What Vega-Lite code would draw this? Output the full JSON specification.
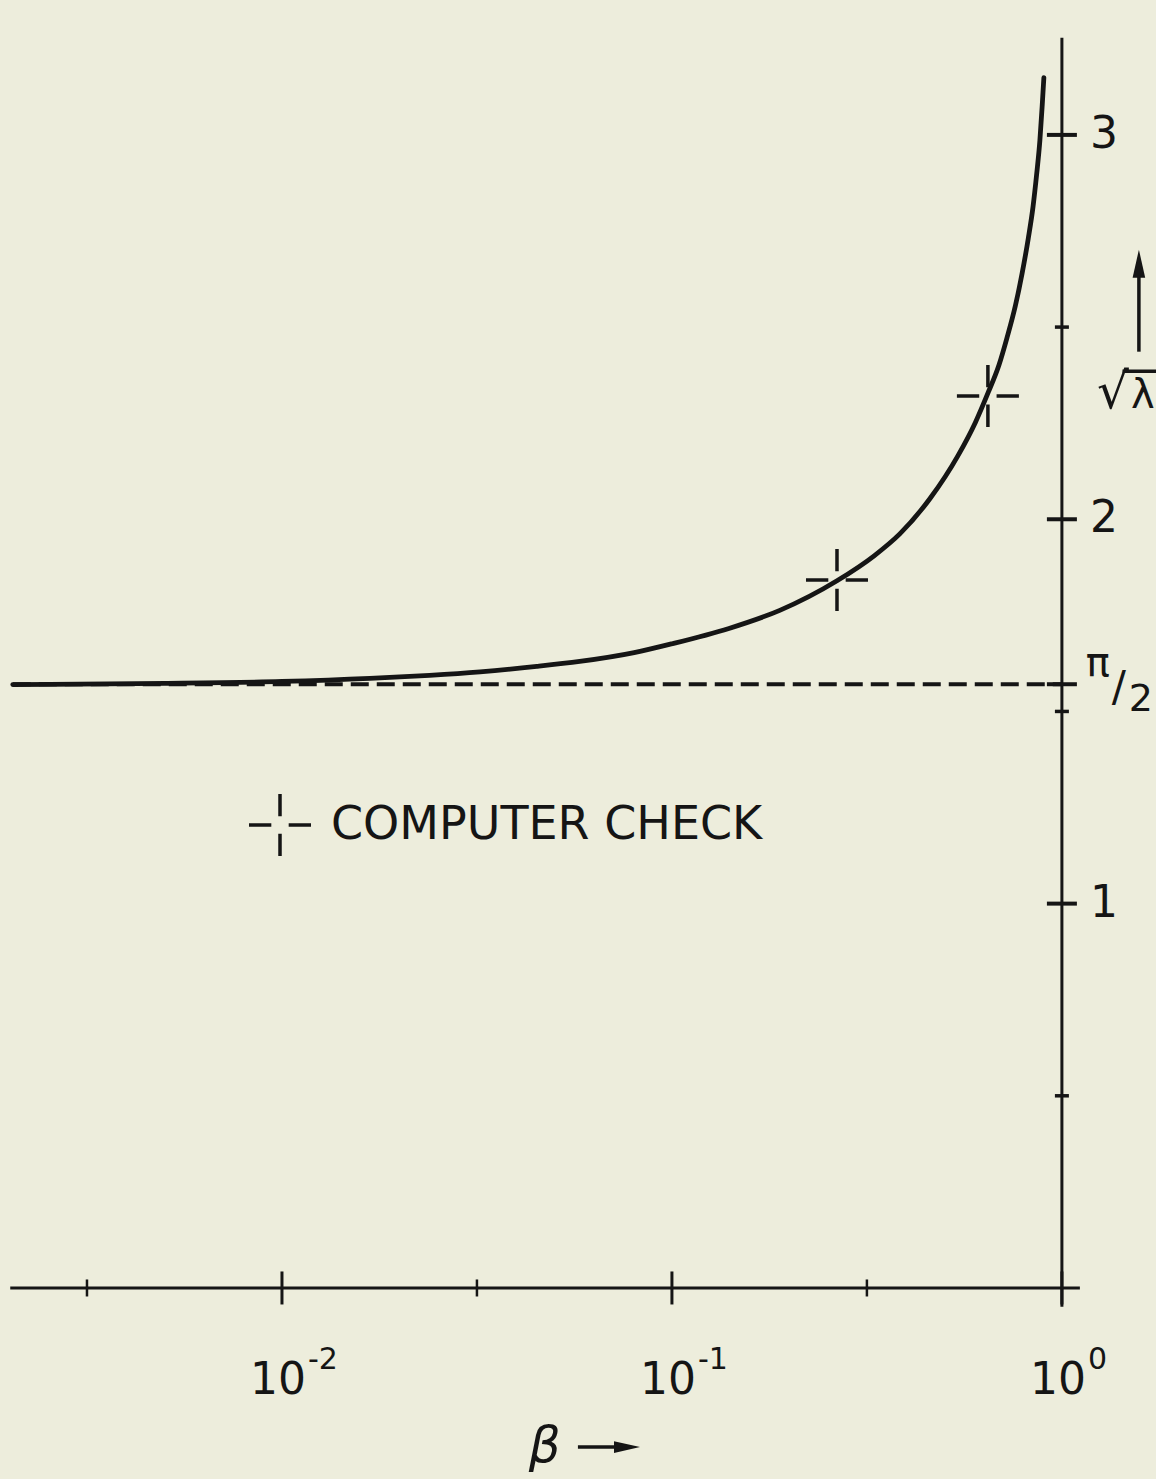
{
  "$schema": "https://vega.github.io/schema/vega-lite/v6.json",
  "width": 1156,
  "height": 1479,
  "padding": 0,
  "autosize": {"type": "none"},
  "background": "#EDEDDC",
  "config": {"view": {"stroke": null}, "font": "DejaVu Sans"},
  "datasets": {
    "axes": [
      {"beta": 0.00201, "beta2": 1.112, "v": 0, "v2": 0},
      {"beta": 1, "beta2": 1, "v": -0.049, "v2": 3.253}
    ],
    "asymptote": [{"beta": 0.00204, "beta2": 1, "v": 1.5708}],
    "yticks": [
      {"v": 0.5, "kind": "minor"},
      {"v": 1, "kind": "major"},
      {"v": 1.5, "kind": "minor"},
      {"v": 1.5708, "kind": "major"},
      {"v": 2, "kind": "major"},
      {"v": 2.5, "kind": "minor"},
      {"v": 3, "kind": "major"}
    ],
    "xticks": [
      {"beta": 0.003162, "kind": "minor"},
      {"beta": 0.01, "kind": "major", "base": "10", "exp": "-2"},
      {"beta": 0.03162, "kind": "minor"},
      {"beta": 0.1, "kind": "major", "base": "10", "exp": "-1"},
      {"beta": 0.3162, "kind": "minor"},
      {"beta": 1, "kind": "major", "base": "10", "exp": "0"}
    ],
    "ylabels": [
      {"v": 1, "label": "1"},
      {"v": 2, "label": "2"},
      {"v": 3, "label": "3"}
    ],
    "curve": [
      {"beta": 0.00204, "v": 1.570},
      {"beta": 0.005, "v": 1.573},
      {"beta": 0.01, "v": 1.578},
      {"beta": 0.0168, "v": 1.586},
      {"beta": 0.0239, "v": 1.594},
      {"beta": 0.0322, "v": 1.603},
      {"beta": 0.045, "v": 1.617},
      {"beta": 0.058, "v": 1.630},
      {"beta": 0.08, "v": 1.653},
      {"beta": 0.1, "v": 1.676},
      {"beta": 0.14, "v": 1.716},
      {"beta": 0.189, "v": 1.763},
      {"beta": 0.265, "v": 1.840},
      {"beta": 0.33, "v": 1.905},
      {"beta": 0.384, "v": 1.962},
      {"beta": 0.459, "v": 2.054},
      {"beta": 0.541, "v": 2.165},
      {"beta": 0.6, "v": 2.252},
      {"beta": 0.646, "v": 2.328},
      {"beta": 0.69, "v": 2.402},
      {"beta": 0.723, "v": 2.472},
      {"beta": 0.76, "v": 2.556},
      {"beta": 0.79, "v": 2.638},
      {"beta": 0.82, "v": 2.731},
      {"beta": 0.843, "v": 2.812},
      {"beta": 0.862, "v": 2.900},
      {"beta": 0.878, "v": 2.985},
      {"beta": 0.89, "v": 3.075},
      {"beta": 0.899, "v": 3.149}
    ],
    "checks": [
      {"beta": 0.265, "v": 1.842, "kind": "COMPUTER CHECK"},
      {"beta": 0.646, "v": 2.321, "kind": "COMPUTER CHECK"}
    ],
    "anchor": [{}]
  },
  "layer": [
    {
      "data": {"name": "axes"},
      "mark": {"type": "rule", "strokeWidth": 3, "color": "#151515"},
      "encoding": {
        "x": {"field": "beta", "type": "quantitative", "scale": {"type": "log", "domain": [0.001892, 1.743], "nice": false}, "axis": null},
        "x2": {"field": "beta2"},
        "y": {"field": "v", "type": "quantitative", "scale": {"domain": [-0.497, 3.351], "nice": false, "zero": false}, "axis": null},
        "y2": {"field": "v2"}
      }
    },
    {
      "data": {"name": "asymptote"},
      "mark": {"type": "rule", "strokeWidth": 4, "strokeDash": [18, 8], "color": "#151515"},
      "encoding": {
        "x": {"field": "beta", "type": "quantitative"},
        "x2": {"field": "beta2"},
        "y": {"field": "v", "type": "quantitative"}
      }
    },
    {
      "data": {"name": "yticks"},
      "transform": [{"filter": "datum.kind === 'major'"}],
      "mark": {"type": "tick", "orient": "horizontal", "size": 30, "thickness": 4, "color": "#151515", "opacity": 1},
      "encoding": {
        "x": {"datum": 1, "type": "quantitative"},
        "y": {"field": "v", "type": "quantitative"}
      }
    },
    {
      "data": {"name": "yticks"},
      "transform": [{"filter": "datum.kind === 'minor'"}],
      "mark": {"type": "tick", "orient": "horizontal", "size": 14, "thickness": 3.5, "color": "#151515", "opacity": 1},
      "encoding": {
        "x": {"datum": 1, "type": "quantitative"},
        "y": {"field": "v", "type": "quantitative"}
      }
    },
    {
      "data": {"name": "xticks"},
      "transform": [{"filter": "datum.kind === 'major'"}],
      "mark": {"type": "tick", "orient": "vertical", "size": 33, "thickness": 3, "color": "#151515", "opacity": 1},
      "encoding": {
        "x": {"field": "beta", "type": "quantitative"},
        "y": {"datum": 0, "type": "quantitative"}
      }
    },
    {
      "data": {"name": "xticks"},
      "transform": [{"filter": "datum.kind === 'minor'"}],
      "mark": {"type": "tick", "orient": "vertical", "size": 17, "thickness": 2.5, "color": "#151515", "opacity": 1},
      "encoding": {
        "x": {"field": "beta", "type": "quantitative"},
        "y": {"datum": 0, "type": "quantitative"}
      }
    },
    {
      "data": {"name": "curve"},
      "mark": {"type": "line", "interpolate": "monotone", "strokeWidth": 4.8, "strokeCap": "round", "color": "#151515"},
      "encoding": {
        "x": {"field": "beta", "type": "quantitative"},
        "y": {"field": "v", "type": "quantitative"}
      }
    },
    {
      "data": {"name": "checks"},
      "mark": {"type": "point", "filled": false, "size": 3844, "strokeWidth": 3.5, "opacity": 1, "color": "#151515"},
      "encoding": {
        "x": {"field": "beta", "type": "quantitative"},
        "y": {"field": "v", "type": "quantitative"},
        "shape": {
          "field": "kind",
          "type": "nominal",
          "scale": {"range": ["M0,-1V-0.28M0,0.28V1M-1,0H-0.28M0.28,0H1"]},
          "legend": {
            "orient": "none",
            "legendX": 247,
            "legendY": 792,
            "title": null,
            "labelFont": "DejaVu Sans",
            "labelFontSize": 46,
            "labelColor": "#151515",
            "labelLimit": 1000,
            "labelOffset": 18,
            "symbolSize": 3844,
            "symbolStrokeWidth": 3.5,
            "symbolStrokeColor": "#151515",
            "symbolFillColor": "transparent"
          }
        }
      }
    },
    {
      "data": {"name": "ylabels"},
      "mark": {"type": "text", "align": "left", "baseline": "middle", "dx": 28, "fontSize": 44, "color": "#151515"},
      "encoding": {
        "x": {"datum": 1, "type": "quantitative"},
        "y": {"field": "v", "type": "quantitative"},
        "text": {"field": "label"}
      }
    },
    {
      "data": {"name": "anchor"},
      "mark": {"type": "text", "align": "center", "baseline": "middle", "dx": 36, "dy": -20, "fontSize": 40, "color": "#151515"},
      "encoding": {
        "x": {"datum": 1, "type": "quantitative"},
        "y": {"datum": 1.5708, "type": "quantitative"},
        "text": {"value": "π"}
      }
    },
    {
      "data": {"name": "anchor"},
      "mark": {"type": "text", "align": "center", "baseline": "middle", "dx": 57, "dy": 4, "fontSize": 42, "color": "#151515"},
      "encoding": {
        "x": {"datum": 1, "type": "quantitative"},
        "y": {"datum": 1.5708, "type": "quantitative"},
        "text": {"value": "/"}
      }
    },
    {
      "data": {"name": "anchor"},
      "mark": {"type": "text", "align": "center", "baseline": "middle", "dx": 79, "dy": 16, "fontSize": 38, "color": "#151515"},
      "encoding": {
        "x": {"datum": 1, "type": "quantitative"},
        "y": {"datum": 1.5708, "type": "quantitative"},
        "text": {"value": "2"}
      }
    },
    {
      "data": {"name": "xticks"},
      "transform": [{"filter": "datum.kind === 'major'"}],
      "mark": {"type": "text", "align": "center", "baseline": "middle", "dx": -4, "dy": 93, "fontSize": 44, "color": "#151515"},
      "encoding": {
        "x": {"field": "beta", "type": "quantitative"},
        "y": {"datum": 0, "type": "quantitative"},
        "text": {"field": "base"}
      }
    },
    {
      "data": {"name": "xticks"},
      "transform": [{"filter": "datum.kind === 'major'"}],
      "mark": {"type": "text", "align": "left", "baseline": "middle", "dx": 26, "dy": 72, "fontSize": 30, "color": "#151515"},
      "encoding": {
        "x": {"field": "beta", "type": "quantitative"},
        "y": {"datum": 0, "type": "quantitative"},
        "text": {"field": "exp"}
      }
    },
    {
      "data": {"name": "anchor"},
      "mark": {"type": "text", "align": "left", "baseline": "alphabetic", "dx": 35, "fontSize": 50, "color": "#151515"},
      "encoding": {
        "x": {"datum": 1, "type": "quantitative"},
        "y": {"datum": 2.29, "type": "quantitative"},
        "text": {"value": "√"}
      }
    },
    {
      "data": {"name": "anchor"},
      "mark": {"type": "text", "align": "left", "baseline": "alphabetic", "dx": 69, "fontSize": 40, "color": "#151515"},
      "encoding": {
        "x": {"datum": 1, "type": "quantitative"},
        "y": {"datum": 2.29, "type": "quantitative"},
        "text": {"value": "λ"}
      }
    },
    {
      "data": {"name": "anchor"},
      "mark": {"type": "rule", "strokeWidth": 3.5, "color": "#151515"},
      "encoding": {
        "x": {"datum": 1.43, "type": "quantitative"},
        "x2": {"datum": 1.743},
        "y": {"datum": 2.385, "type": "quantitative"}
      }
    },
    {
      "data": {"name": "anchor"},
      "mark": {"type": "rule", "strokeWidth": 3.5, "xOffset": 77, "color": "#151515"},
      "encoding": {
        "x": {"datum": 1, "type": "quantitative"},
        "y": {"datum": 2.436, "type": "quantitative"},
        "y2": {"datum": 2.65}
      }
    },
    {
      "data": {"name": "anchor"},
      "mark": {"type": "point", "shape": "M0,-1L0.45,1L-0.45,1Z", "filled": true, "size": 784, "opacity": 1, "xOffset": 77, "color": "#151515"},
      "encoding": {
        "x": {"datum": 1, "type": "quantitative"},
        "y": {"datum": 2.665, "type": "quantitative"}
      }
    },
    {
      "data": {"name": "anchor"},
      "mark": {"type": "text", "align": "center", "baseline": "middle", "fontSize": 50, "fontStyle": "italic", "color": "#151515"},
      "encoding": {
        "x": {"datum": 0.0472, "type": "quantitative"},
        "y": {"datum": -0.414, "type": "quantitative"},
        "text": {"value": "β"}
      }
    },
    {
      "data": {"name": "anchor"},
      "mark": {"type": "rule", "strokeWidth": 3.5, "color": "#151515"},
      "encoding": {
        "x": {"datum": 0.0574, "type": "quantitative"},
        "x2": {"datum": 0.0758},
        "y": {"datum": -0.414, "type": "quantitative"}
      }
    },
    {
      "data": {"name": "anchor"},
      "mark": {"type": "point", "shape": "M1,0L-1,0.45L-1,-0.45Z", "filled": true, "size": 676, "opacity": 1, "color": "#151515"},
      "encoding": {
        "x": {"datum": 0.0767, "type": "quantitative"},
        "y": {"datum": -0.414, "type": "quantitative"}
      }
    }
  ]
}
